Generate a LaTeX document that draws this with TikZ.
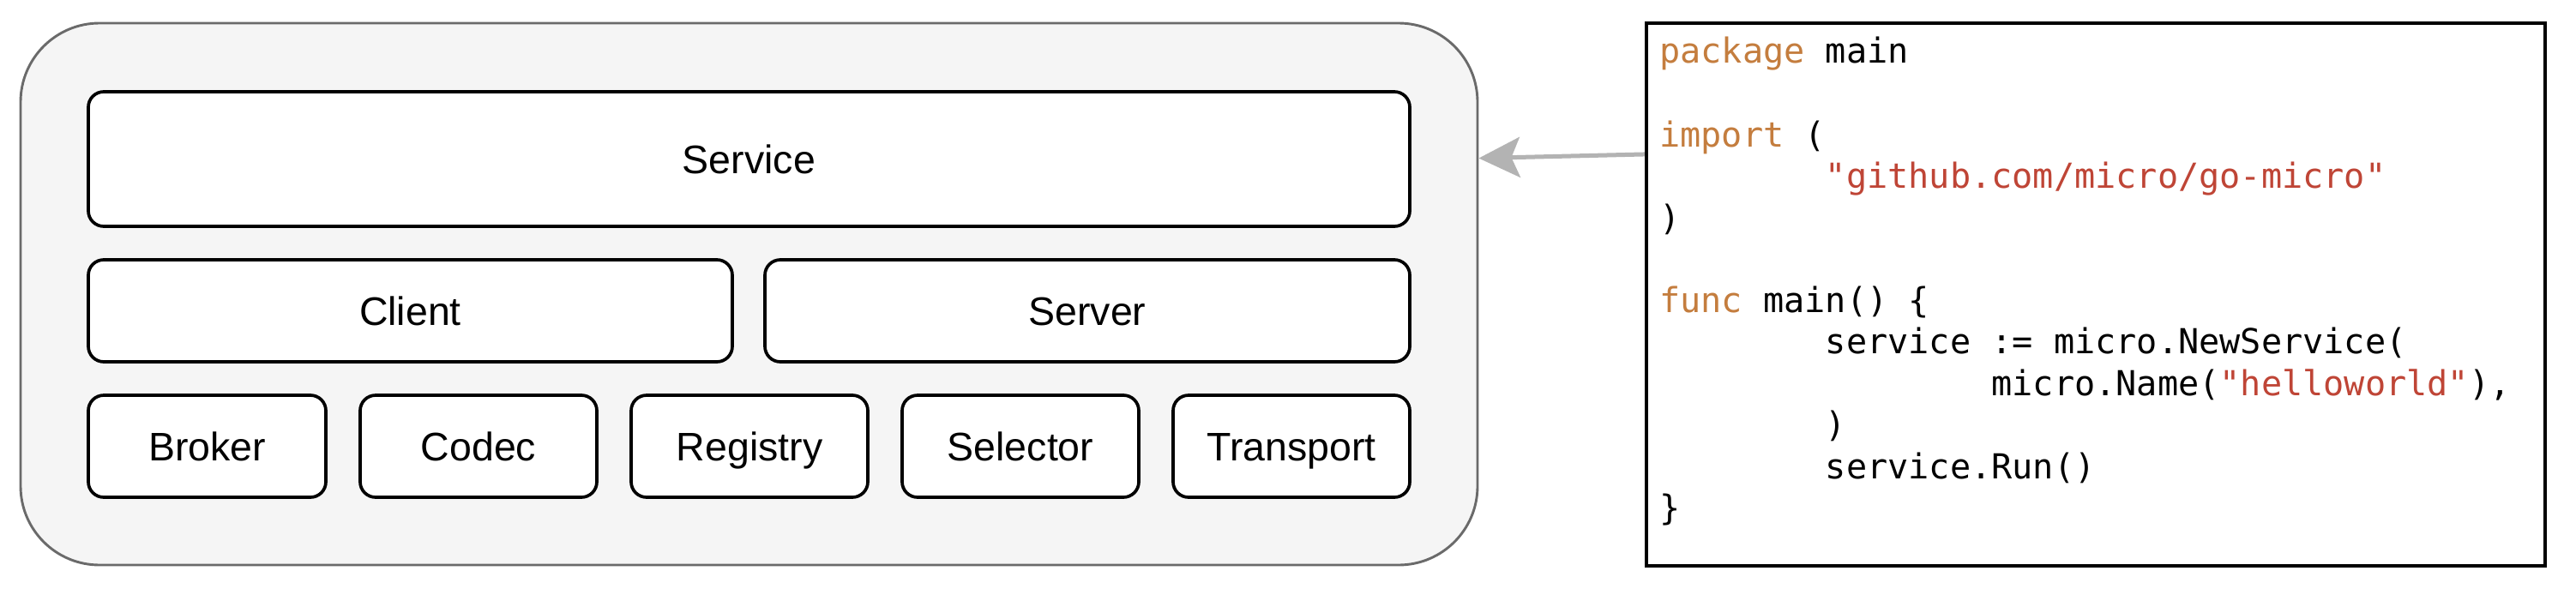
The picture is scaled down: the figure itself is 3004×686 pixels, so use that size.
\documentclass[tikz,border=0pt]{standalone}
\usepackage{fontspec}
\setmainfont{Liberation Sans}
\newfontfamily\codefont{DejaVu Sans Mono}
\usetikzlibrary{arrows.meta,calc}
\definecolor{kwcol}{HTML}{C47D3E}
\definecolor{strcol}{HTML}{BF4536}
\definecolor{outerfill}{HTML}{F5F5F5}
\definecolor{outerline}{HTML}{6A6A6A}
\definecolor{arrowcol}{HTML}{B3B3B3}
\newcommand{\kw}[1]{\textcolor{kwcol}{#1}}
\newcommand{\str}[1]{\textcolor{strcol}{#1}}
\begin{document}
\begin{tikzpicture}[x=1pt,y=-1pt,
  outerbox/.style={draw=outerline, fill=outerfill, line width=2.9pt, rounded corners=92pt, inner sep=0pt},
  layerbox/.style={draw=black, fill=white, line width=3.7pt, rounded corners=18pt, inner sep=0pt,
    minimum height=119pt, text height=33.3pt, text depth=0pt,
    font=\fontsize{46.5}{56}\selectfont},
  codebox/.style={draw=black, fill=white, line width=4.1pt, inner sep=0pt},
  codeline/.style={anchor=base west, inner sep=0pt, font=\codefont\fontsize{40.2}{48}\selectfont},
  arr/.style={draw=arrowcol, line width=5pt, -{Stealth[length=48pt, width=47pt, inset=10pt]}}
]
\useasboundingbox (0,0) rectangle (3004,686);
\fill[white] (0,0) rectangle (3004,686);

% outer container
\node[outerbox, minimum width=1699pt, minimum height=632pt] (outer) at (873.5,343) {};

% layers
\node[layerbox, minimum width=1541pt, minimum height=157pt] (service) at (873.5,185.5) {Service};
\node[layerbox, minimum width=751pt] (client) at (478.5,362.5) {Client};
\node[layerbox, minimum width=752pt] (server) at (1268,362.5) {Server};
\node[layerbox, minimum width=277pt] (broker) at (241.5,520.5) {Broker};
\node[layerbox, minimum width=276pt] (codec) at (558,520.5) {Codec};
\node[layerbox, minimum width=276pt] (registry) at (874,520.5) {Registry};
\node[layerbox, minimum width=276pt] (selector) at (1190,520.5) {Selector};
\node[layerbox, minimum width=276pt] (transport) at (1506,520.5) {Transport};

% code box
\node[codebox, minimum width=1048pt, minimum height=633pt] (code) at (2444,343.5) {};

\node[codeline] (c1) at (1935,73.5) {\kw{package} main};
\node[codeline] (c2) at (1935,171) {\kw{import} (};
\node[codeline] (c3) at (2128.6,219.5) {\str{"github.com/micro/go-micro"}};
\node[codeline] (c4) at (1935,268) {)};
\node[codeline] (c5) at (1935,364) {\kw{func} main() \{};
\node[codeline] (c6) at (2128.6,412.5) {service := micro.NewService(};
\node[codeline] (c7) at (2322.2,461) {micro.Name(\str{"helloworld"}),};
\node[codeline] (c8) at (2128.6,509.5) {)};
\node[codeline] (c9) at (2128.6,558) {service.Run()};
\node[codeline] (c10) at (1935,606.5) {\}};

% arrow
\coordinate (astart) at ($(code.north west)+(0,155)$);
\draw[arr] (astart) -- ($(outer.north east)+(0,159)$);
\end{tikzpicture}
\end{document}
